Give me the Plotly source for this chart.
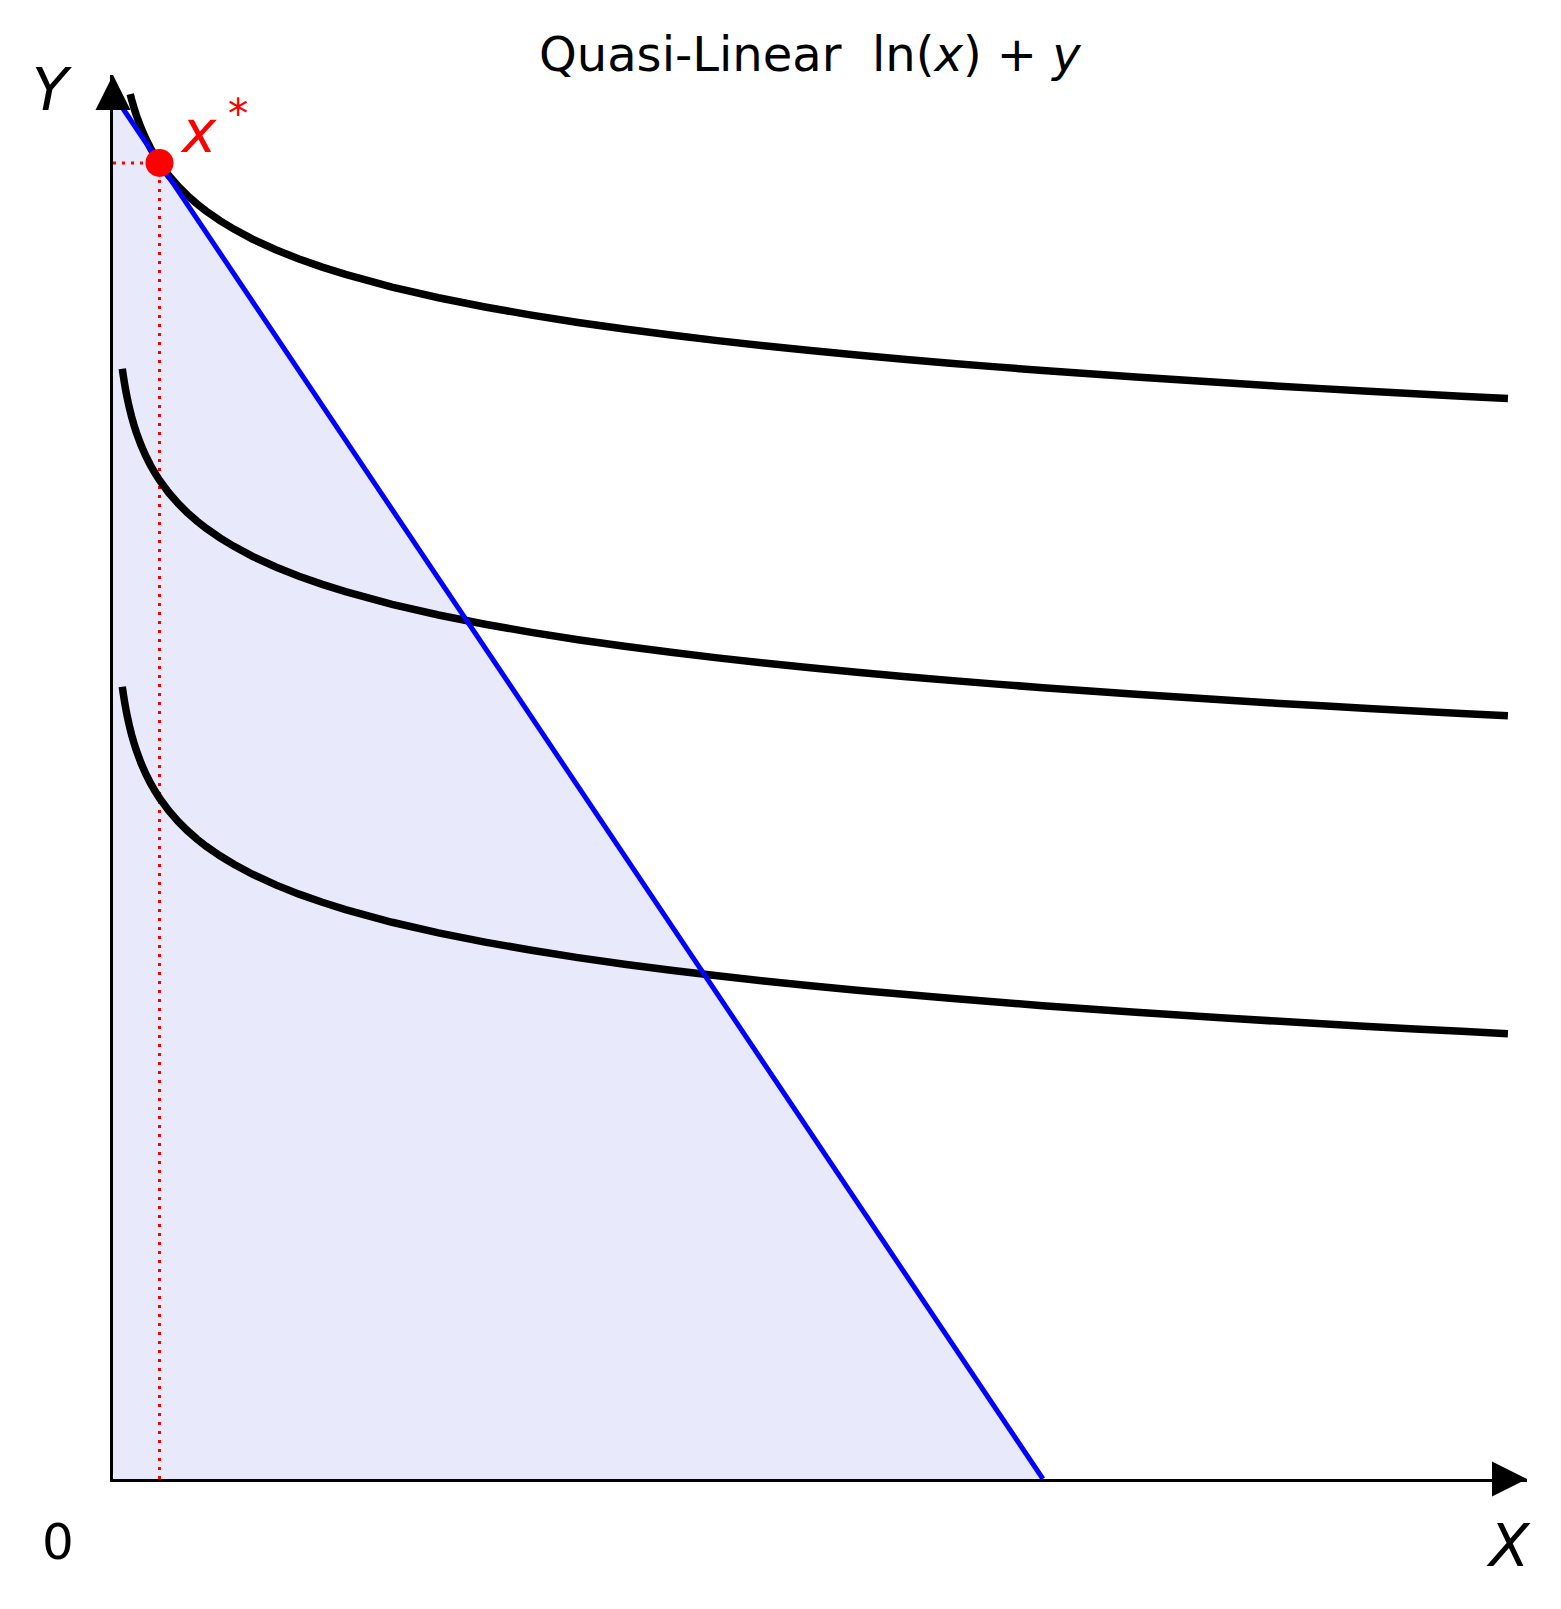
import plotly.graph_objects as go

# budget line: px = py = 1, m = 20
budget_x = [0, 20]
budget_y = [20, 0]

# optimum
x_star = 1.0
y_star = 19.0

# indifference curves (top / middle / bottom)
curve_x = [0.2, 0.22, 0.25, 0.28, 0.3, 0.35, 0.4, 0.45, 0.5, 0.6, 0.7, 0.8, 0.9, 1.0,
           1.2, 1.4, 1.6, 1.8, 2.0, 2.3, 2.6, 3.0, 3.5, 4.0, 4.5, 5,
           6, 7, 8, 9, 10, 11, 12, 13, 14, 15, 16, 17, 18, 19, 20,
           21, 22, 23, 24, 25, 26, 27, 28, 29, 30]
curve_mid_y = [16.029, 15.934, 15.806, 15.693, 15.624, 15.470, 15.336, 15.219, 15.113, 14.931,
               14.777, 14.643, 14.525, 14.420, 14.238, 14.084, 13.950, 13.832, 13.727, 13.587,
               13.465, 13.321, 13.167, 13.034, 12.916, 12.811, 12.628, 12.474, 12.341, 12.223,
               12.117, 12.022, 11.935, 11.855, 11.781, 11.712, 11.647, 11.587, 11.530, 11.476,
               11.424, 11.376, 11.329, 11.285, 11.242, 11.201, 11.162, 11.124, 11.088, 11.053,
               11.019]
curve_low_y = [11.439, 11.344, 11.216, 11.103, 11.034, 10.880, 10.746, 10.629, 10.523, 10.341,
               10.187, 10.053, 9.935, 9.830, 9.648, 9.494, 9.360, 9.242, 9.137, 8.997,
               8.875, 8.731, 8.577, 8.444, 8.326, 8.221, 8.038, 7.884, 7.751, 7.633,
               7.527, 7.432, 7.345, 7.265, 7.191, 7.122, 7.057, 6.997, 6.940, 6.886,
               6.834, 6.786, 6.739, 6.695, 6.652, 6.611, 6.572, 6.534, 6.498, 6.463,
               6.429]

# the top curve enters the frame at the top edge
curve_top_x = [0.37] + curve_x[6:]
curve_top_y = [19.994, 19.916, 19.799, 19.693, 19.511, 19.357, 19.223, 19.105, 19.000,
               18.818, 18.664, 18.530, 18.412, 18.307, 18.167, 18.045, 17.901, 17.747, 17.614,
               17.496, 17.391, 17.208, 17.054, 16.921, 16.803, 16.697, 16.602, 16.515, 16.435,
               16.361, 16.292, 16.227, 16.167, 16.110, 16.056, 16.004, 15.956, 15.909, 15.865,
               15.822, 15.781, 15.742, 15.704, 15.668, 15.633, 15.599]

x_max = 30.41
y_max = 20.27

W, H = 1561, 1609
OFF = 8  # page body margin
L, R, T, B = 105, 42, 67, 138
FONT = "DejaVu Sans"


def px(xp):
    return (xp - OFF - L) / (W - L - R)


def py(yp):
    return (H - B - (yp - OFF)) / (H - T - B)


fig = go.Figure()

# feasible set
fig.add_trace(go.Scatter(x=budget_x, y=budget_y, mode="lines", fill="tozeroy",
                         fillcolor="rgb(232,233,251)", line=dict(color="rgba(0,0,0,0)", width=0),
                         hoverinfo="skip"))

# dotted guides to the optimum
dot_line = dict(color="red", width=3, dash="3px,6px")
fig.add_trace(go.Scatter(x=[0, x_star], y=[y_star, y_star], mode="lines", line=dot_line))
fig.add_trace(go.Scatter(x=[x_star, x_star], y=[0, y_star], mode="lines", line=dot_line))

for cx, cy in [(curve_top_x, curve_top_y), (curve_x, curve_mid_y), (curve_x, curve_low_y)]:
    fig.add_trace(go.Scatter(x=cx, y=cy, mode="lines",
                             line=dict(color="black", width=7.5, simplify=False)))

fig.add_trace(go.Scatter(x=budget_x, y=budget_y, mode="lines", line=dict(color="blue", width=5)))

fig.add_trace(go.Scatter(x=[x_star], y=[y_star], mode="markers",
                         marker=dict(color="red", size=28), cliponaxis=False))

# axis arrow heads
fig.add_trace(go.Scatter(x=[0, x_max], y=[y_max, 0], mode="markers", cliponaxis=False,
                         marker=dict(color="black", size=35, symbol=["arrow-up", "arrow-right"],
                                     line=dict(width=0))))

annotations = [
    dict(text="Quasi-Linear\u00a0\u00a0ln(<i>x</i>)\u00a0+\u00a0<i>y</i>", x=px(810), y=py(54),
         xanchor="center", yanchor="middle", font=dict(size=48, color="black")),
    dict(text="<i>Y</i>", x=px(52), y=py(90), xanchor="center", yanchor="middle",
         font=dict(size=59, color="black")),
    dict(text="<i>X</i>", x=px(1508), y=py(1545), xanchor="center", yanchor="middle",
         font=dict(size=59, color="black")),
    dict(text="0", x=px(58), y=py(1542), xanchor="center", yanchor="middle",
         font=dict(size=50, color="black")),
    dict(text="<i>x</i>\u2009<sup>*</sup>", x=px(178), y=py(128), xanchor="left", yanchor="middle",
         font=dict(size=58, color="red")),
]
for a in annotations:
    a.update(xref="paper", yref="paper", showarrow=False)

fig.update_layout(
    width=W, height=H,
    margin=dict(l=L, r=R, t=T, b=B),
    paper_bgcolor="white", plot_bgcolor="white",
    showlegend=False,
    font=dict(family=FONT),
    annotations=annotations,
)
fig.update_xaxes(range=[0, x_max], showgrid=False, zeroline=False, showticklabels=False, ticks="",
                 showline=True, linecolor="black", linewidth=3)
fig.update_yaxes(range=[0, y_max], showgrid=False, zeroline=False, showticklabels=False, ticks="",
                 showline=True, linecolor="black", linewidth=3)

fig.write_html("out.html")
